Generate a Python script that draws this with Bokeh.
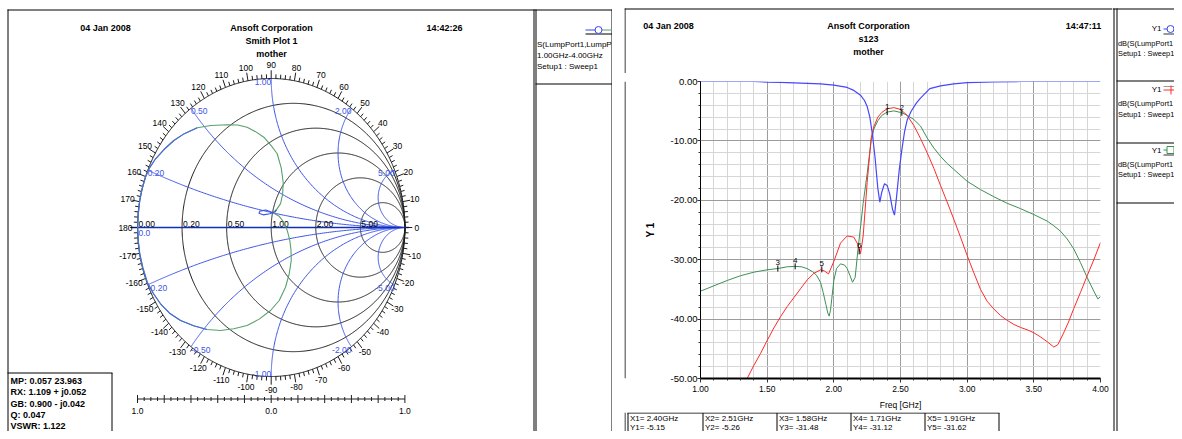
import numpy as np
from bokeh.plotting import figure
from bokeh.layouts import row, column
from bokeh.models import Range1d, FixedTicker, PrintfTickFormatter, Spacer
from bokeh.core.properties import value
from bokeh.embed import file_html
from bokeh.resources import INLINE

FONT_NAME = "Liberation Sans"
FONT = value(FONT_NAME)

# ================= Smith chart data =================
smith_r = [0.2, 0.5, 1.0, 2.0, 5.0]
smith_x = [0.2, 0.5, 1.0, 2.0, 5.0]
r_label_vals = [0.0, 0.2, 0.5, 1.0, 2.0, 5.0]
r_label_text = ["0.00", "0.20", "0.50", "1.00", "2.00", "5.00"]
angle_vals = list(range(-170, 181, 10))
ruler_vals = [-1.0, 0.0, 1.0]
ruler_text = ["1.0", "0.0", "1.0"]

# S11 trace (reflection coefficient re / im)
s11_loop_re = [-0.33, -0.45, -0.553, -0.65, -0.728, -0.80, -0.865, -0.91, -0.94, -0.965, -0.983, -0.994,
               -0.998, -0.994, -0.983, -0.96, -0.927, -0.88, -0.828, -0.76, -0.678, -0.58, -0.48, -0.379,
               -0.28, -0.18, -0.09, -0.005, 0.06, 0.107, 0.135, 0.15, 0.148, 0.139, 0.12, 0.095, 0.06, 0.01,
               0.04, 0.07, 0.085, 0.09, 0.075, 0.045, 0.0, -0.055, -0.12, -0.18, -0.25, -0.33]
s11_loop_im = [0.69, 0.685, 0.669, 0.63, 0.584, 0.525, 0.461, 0.40, 0.338, 0.26, 0.181, 0.09,
               0.0, -0.09, -0.177, -0.27, -0.367, -0.445, -0.512, -0.575, -0.624, -0.66, -0.685, -0.691,
               -0.68, -0.658, -0.615, -0.557, -0.49, -0.401, -0.31, -0.221, -0.15, -0.087, -0.02, 0.035, 0.075, 0.10,
               0.12, 0.16, 0.22, 0.30, 0.40, 0.495, 0.55, 0.606, 0.645, 0.673, 0.688, 0.69]
s11_edge_re = [-0.553, -0.65, -0.728, -0.80, -0.865, -0.91, -0.94, -0.965, -0.983, -0.994, -0.998,
               -0.994, -0.983, -0.96, -0.927, -0.88, -0.828, -0.76, -0.678, -0.58, -0.48]
s11_edge_im = [0.669, 0.63, 0.584, 0.525, 0.461, 0.40, 0.338, 0.26, 0.181, 0.09, 0.0,
               -0.09, -0.177, -0.27, -0.367, -0.445, -0.512, -0.575, -0.624, -0.66, -0.685]
s11_inner_re = [0.01, -0.04, -0.085, -0.092, -0.06, -0.01, 0.03, 0.04]
s11_inner_im = [0.10, 0.118, 0.11, 0.095, 0.085, 0.092, 0.105, 0.12]

marker_lines = ["MP: 0.057  23.963", "RX: 1.109 + j0.052", "GB: 0.900 - j0.042", "Q: 0.047", "VSWR: 1.122"]

# ================= Rectangular plot data =================
freq_s11 = [1.00, 1.20, 1.40, 1.50, 1.60, 1.80, 1.90, 2.00, 2.10, 2.15, 2.20, 2.23, 2.25, 2.27, 2.29, 2.31,
            2.33, 2.345, 2.36, 2.38, 2.40, 2.42, 2.44, 2.455, 2.47, 2.49, 2.51, 2.53, 2.55, 2.58, 2.62, 2.65,
            2.72, 2.80, 2.90, 3.00, 3.20, 3.40, 3.60, 4.00]
db_s11 = [0.0, 0.0, 0.0, -0.1, -0.15, -0.3, -0.4, -0.6, -1.0, -1.5, -2.3, -3.2, -4.2, -6.0, -9.0, -13.0,
          -18.0, -20.3, -18.6, -17.2, -17.5, -19.0, -21.5, -22.5, -19.5, -15.0, -11.5, -8.5, -6.5, -5.0, -3.6, -2.8,
          -1.2, -0.75, -0.4, -0.2, -0.06, 0.0, 0.0, 0.0]

freq_s21 = [1.35, 1.40, 1.45, 1.50, 1.55, 1.60, 1.65, 1.70, 1.75, 1.80, 1.85, 1.90, 1.93, 1.96, 2.00, 2.05,
            2.10, 2.15, 2.18, 2.20, 2.22, 2.25, 2.28, 2.30, 2.33, 2.36, 2.40, 2.45, 2.50, 2.55, 2.60, 2.65,
            2.70, 2.75, 2.80, 2.85, 2.90, 2.95, 3.00, 3.05, 3.10, 3.15, 3.20, 3.25, 3.30, 3.35, 3.40, 3.45,
            3.50, 3.55, 3.60, 3.65, 3.68, 3.72, 3.76, 3.80, 3.85, 3.90, 3.95, 4.00]
db_s21 = [-50.0, -47.8, -45.8, -43.6, -41.5, -39.6, -37.9, -36.4, -34.9, -33.4, -32.3, -31.7, -31.9, -32.4, -30.3, -27.2,
          -26.0, -26.2, -27.4, -29.0, -26.0, -17.0, -9.5, -7.6, -6.0, -5.2, -4.6, -4.4, -4.7, -5.7, -7.4, -9.6,
          -12.0, -14.6, -17.5, -20.3, -23.2, -26.2, -29.3, -32.2, -35.0, -37.0, -38.3, -39.4, -40.2, -40.9, -41.4, -41.8,
          -42.3, -43.0, -43.8, -44.7, -44.3, -42.5, -40.5, -38.2, -35.5, -32.7, -30.0, -27.1]

freq_s31 = [1.00, 1.10, 1.20, 1.30, 1.40, 1.50, 1.58, 1.65, 1.71, 1.76, 1.80, 1.84, 1.87, 1.90, 1.92, 1.94,
            1.955, 1.965, 1.975, 1.985, 2.00, 2.02, 2.05, 2.08, 2.10, 2.12, 2.14, 2.16, 2.18, 2.20, 2.22, 2.25,
            2.28, 2.30, 2.33, 2.36, 2.40, 2.45, 2.51, 2.55, 2.60, 2.65, 2.70, 2.75, 2.80, 2.85, 2.90, 3.00,
            3.10, 3.20, 3.30, 3.40, 3.50, 3.60, 3.65, 3.70, 3.75, 3.80, 3.85, 3.90, 3.95, 3.98, 4.00]
db_s31 = [-35.3, -34.4, -33.5, -32.7, -32.1, -31.7, -31.48, -31.2, -31.12, -31.2, -31.5, -32.0, -32.6, -33.8, -35.5, -37.5,
          -39.0, -39.5, -38.5, -36.5, -33.5, -31.5, -30.7, -30.9, -31.5, -32.6, -33.8, -33.0, -28.5, -24.5, -20.5, -15.5,
          -10.0, -8.0, -6.6, -5.7, -5.15, -4.95, -5.26, -5.7, -6.4, -7.5, -9.5, -11.2, -12.6, -13.8, -14.8, -16.8,
          -18.2, -19.4, -20.5, -21.4, -22.4, -23.5, -24.3, -25.2, -26.5, -28.2, -30.5, -33.0, -35.3, -36.6, -36.2]

x_ticks = [1.0, 1.5, 2.0, 2.5, 3.0, 3.5, 4.0]
y_ticks = [-50, -40, -30, -20, -10, 0]
mk_freq = [2.40, 2.51, 1.58, 1.71, 1.91, 2.19]
mk_db = [-5.15, -5.26, -31.48, -31.12, -31.62, -28.6]
mk_label = ["1", "2", "3", "4", "5", "6"]
table_x = ["X1= 2.40GHz", "X2= 2.51GHz", "X3= 1.58GHz", "X4= 1.71GHz", "X5= 1.91GHz"]
table_y = ["Y1= -5.15", "Y2= -5.26", "Y3= -31.48", "Y4= -31.12", "Y5= -31.62"]

# ================= styling =================
BLK = "#1e1e1e"
SBLUE = "#3e55e6"
AXBLUE = "#1030b8"
TGREEN = "#5a9f6e"
C_BLUE = "#4646ff"
C_RED = "#ff2a2a"
C_GREEN = "#3f8f55"
TOTAL_H = 431


def txt(f, xs, ys, texts, size="9px", bold=False, align="center", baseline="middle", color="black", **kw):
    f.text(x=xs, y=ys, text=texts, text_font=FONT, text_font_size=size,
           text_font_style="bold" if bold else "normal", text_align=align,
           text_baseline=baseline, text_color=color, **kw)


def canvas(x0, x1, y0, y1):
    f = figure(width=x1 - x0, height=y1 - y0, x_range=Range1d(x0, x1), y_range=Range1d(y1, y0),
               x_axis_type=None, y_axis_type=None, output_backend="svg", toolbar_location=None,
               min_border=0)
    f.outline_line_color = None
    return f


# ================= left panel: Smith chart =================
SX, SY = 133.7, 149.0
CX, CY = 270.7, 227.0
W_L = 612
ps = figure(width=W_L, height=TOTAL_H,
            x_range=Range1d(-CX / SX, (W_L - CX) / SX),
            y_range=Range1d(-(TOTAL_H - CY) / SY, CY / SY),
            x_axis_type=None, y_axis_type=None, output_backend="svg",
            toolbar_location=None, min_border=0)
ps.outline_line_color = None
ps.extra_x_ranges = {"px": Range1d(0, W_L)}
ps.extra_y_ranges = {"px": Range1d(TOTAL_H, 0)}
PX = dict(x_range_name="px", y_range_name="px")

th = np.linspace(0, 2 * np.pi, 721)
cx_list, cy_list = [list(np.cos(th))], [list(np.sin(th))]
for r in smith_r:
    c, rad = r / (1 + r), 1 / (1 + r)
    cx_list.append(list(c + rad * np.cos(th)))
    cy_list.append(list(rad * np.sin(th)))
ps.multi_line(cx_list, cy_list, line_color=BLK, line_width=1)

r_sweep = np.concatenate([[0.0], np.logspace(-2.5, 3.5, 400)])
ax_xs, ax_ys = [], []
for xv in smith_x:
    for s in (1, -1):
        g = (r_sweep + 1j * s * xv - 1) / (r_sweep + 1j * s * xv + 1)
        ax_xs.append(list(g.real) + [1.0])
        ax_ys.append(list(g.imag) + [0.0])
ps.multi_line(ax_xs, ax_ys, line_color=SBLUE, line_width=1)

ps.line([-1.05, 1.03], [0, 0], line_color=AXBLUE, line_width=1.6)

deg = np.arange(0, 360, 2)
rd = np.radians(deg)
L = np.where(deg % 10 == 0, 0.055, 0.028)
ps.segment(x0=np.cos(rd), y0=np.sin(rd), x1=np.cos(rd) * (1 + L), y1=np.sin(rd) * (1 + L),
           line_color=BLK, line_width=1)
ang = np.radians(angle_vals)
txt(ps, list(1.09 * np.cos(ang)), list(1.09 * np.sin(ang)), [str(a) for a in angle_vals], size="8.5px")

gx = [(r - 1) / (r + 1) for r in r_label_vals]
txt(ps, gx, [0] * len(gx), r_label_text, size="8.5px", align="left", baseline="bottom", x_offset=1, y_offset=-1)
txt(ps, [-1.0], [0], ["0.0"], size="8.5px", align="left", baseline="top", color=SBLUE, x_offset=1, y_offset=2)

for xv in smith_x:
    for s in (1, -1):
        g = (1j * s * xv - 1) / (1j * s * xv + 1)
        lab = ("%.2f" % xv) if s > 0 else ("-%.2f" % xv)
        al = "left" if g.real < -0.01 else "right"
        bl = "bottom" if g.imag < -0.95 else "top"
        txt(ps, [g.real], [g.imag], [lab], size="8.5px", align=al, baseline=bl, color=SBLUE)

ps.line(s11_loop_re, s11_loop_im, line_color=TGREEN, line_width=1.1)
ps.line(s11_edge_re, s11_edge_im, line_color="#4a68e8", line_width=1.1)
ps.line(s11_inner_re, s11_inner_im, line_color="#3a55e0", line_width=1.1)

RY = 398.5
rt = np.round(np.arange(-1.0, 1.0001, 0.05), 3)
rmaj = np.isclose(np.round(rt / 0.2) * 0.2, rt)
rh = np.where(rmaj, 4.0, 2.0)
ps.line([-1.0, 1.0], [RY, RY], line_color=BLK, line_width=1, y_range_name="px")
ps.segment(x0=rt, y0=RY - rh, x1=rt, y1=RY + rh, line_color=BLK, line_width=1, y_range_name="px")
txt(ps, ruler_vals, [410] * 3, ruler_text, size="8.5px", y_range_name="px")

# frame lines / boxes (picture pixel coordinates)
ps.segment(x0=[7, 7.5, 533.5, 535.5, 611.5, 535, 7, 111.5, 585],
           y0=[9.5, 9, 9, 9, 9, 83.5, 372.5, 372.5, 33.5],
           x1=[612, 7.5, 533.5, 535.5, 611.5, 612, 112, 111.5, 612],
           y1=[9.5, 431, 431, 431, 431, 83.5, 372.5, 431, 33.5],
           line_color="black", line_width=1, **PX)

txt(ps, [105, 271, 444], [27.5, 27.5, 27.5], ["04 Jan 2008", "Ansoft Corporation", "14:42:26"], size="9px", bold=True, **PX)
txt(ps, [271, 271], [40.5, 53.5], ["Smith Plot 1", "mother"], size="9px", bold=True, **PX)

ps.line([585, 595], [29.5, 29.5], line_color="#3344ee", line_width=1, **PX)
ps.line([601, 612], [29.5, 29.5], line_color=TGREEN, line_width=1, **PX)
ps.scatter([598], [29.5], marker="circle", size=7, fill_color="white", line_color="#3344ee", **PX)
txt(ps, [536.5, 536.5, 536.5], [43.5, 55, 66], ["S(LumpPort1,LumpP", "1.00GHz-4.00GHz", "Setup1 : Sweep1"],
    size="8px", align="left", **PX)

txt(ps, [10] * 5, [380.5, 391.8, 403.1, 414.4, 425.5], marker_lines, size="9px", bold=True, align="left", **PX)

# ================= right panel =================
RX0, RX1 = 624, 1112
HDR_B, PLOT_B = 73, 412

header = canvas(RX0, RX1, 0, HDR_B)
header.segment(x0=[624, 624.5], y0=[8.5, 8], x1=[RX1, 624.5], y1=[8.5, HDR_B], line_color="black", line_width=1)
txt(header, [668, 868, 1083], [25.5, 25.5, 25.5], ["04 Jan 2008", "Ansoft Corporation", "14:47:11"], size="9px", bold=True)
txt(header, [868, 868], [38.5, 51.5], ["s123", "mother"], size="9px", bold=True)

pad = canvas(624, 630, HDR_B, PLOT_B)
pad.segment(x0=[624.5], y0=[HDR_B], x1=[624.5], y1=[PLOT_B], line_color="black", line_width=1)

pr = figure(width=482, height=PLOT_B - HDR_B, x_range=Range1d(1.0, 4.0), y_range=Range1d(-50, 0),
            output_backend="svg", toolbar_location=None,
            min_border_left=70, min_border_right=12, min_border_top=8, min_border_bottom=32)
pr.outline_line_color = None
xt = FixedTicker(ticks=x_ticks, minor_ticks=[round(1.0 + 0.1 * i, 2) for i in range(31)])
yt = FixedTicker(ticks=y_ticks, minor_ticks=list(range(-50, 1, 2)))
pr.xaxis.ticker = xt
pr.yaxis.ticker = yt
pr.xgrid.ticker = xt
pr.ygrid.ticker = yt
for g in (pr.xgrid[0], pr.ygrid[0]):
    g.grid_line_color = "#9c9c9c"
    g.grid_line_width = 1
    g.minor_grid_line_color = "#d6d6d6"
    g.minor_grid_line_width = 1
for ax in (pr.xaxis[0], pr.yaxis[0]):
    ax.formatter = PrintfTickFormatter(format="%.2f")
    ax.major_tick_in = 0
    ax.minor_tick_in = 0
    ax.minor_tick_out = 2
    ax.major_tick_line_color = "#333333"
    ax.minor_tick_line_color = "#333333"
    ax.axis_line_color = "black"
    ax.major_label_text_font = FONT_NAME
    ax.major_label_text_color = "black"
    ax.axis_label_text_font = FONT_NAME
    ax.axis_label_text_color = "black"
pr.xaxis.major_tick_out = 4
pr.yaxis.major_tick_out = 3
pr.xaxis.major_label_text_font_size = "8.5px"
pr.yaxis.major_label_text_font_size = "9.5px"
pr.xaxis.axis_line_width = 2
pr.xaxis.major_label_standoff = 3
pr.yaxis.major_label_standoff = 0
pr.xaxis.axis_label = "Freq [GHz]"
pr.xaxis.axis_label_text_font_size = "8.5px"
pr.xaxis.axis_label_text_font_style = "normal"
pr.xaxis.axis_label_standoff = 5
pr.yaxis.axis_label = "Y 1"
pr.yaxis.axis_label_text_font_size = "10px"
pr.yaxis.axis_label_text_font_style = "bold"
pr.yaxis.axis_label_standoff = 12

pr.line(freq_s31, db_s31, line_color=C_GREEN, line_width=1)
pr.line(freq_s21, db_s21, line_color=C_RED, line_width=1)
pr.line(freq_s11, db_s11, line_color=C_BLUE, line_width=1.2)
pr.scatter(mk_freq, mk_db, marker="dash", angle=np.pi / 2, size=6, line_color="black", line_width=1)
pr.text(x=mk_freq, y=mk_db, text=mk_label, text_font=FONT, text_font_size="8px", text_align="center",
        text_baseline="bottom", y_offset=-3, text_color="black")

footer = canvas(RX0, RX1, PLOT_B, TOTAL_H)
tb_x = [627.5, 702.5, 776.5, 850.5, 924.5, 998.5]
footer.segment(x0=[624.5, 627] + tb_x, y0=[PLOT_B, 412.5] + [412.5] * 6,
               x1=[624.5, 999] + tb_x, y1=[TOTAL_H, 412.5] + [TOTAL_H] * 6, line_color="black", line_width=1)
txt(footer, [x + 2 for x in tb_x[:5]], [418.3] * 5, table_x, size="8px", align="left")
txt(footer, [x + 2 for x in tb_x[:5]], [426.6] * 5, table_y, size="8px", align="left")

LEG_R = 1174
legend = canvas(RX1, LEG_R, 0, TOTAL_H)
legend.segment(x0=[1113.5, 1116.5, RX1, 1116, 1116, 1116],
               y0=[8, 8, 8.5, 80.5, 142.5, 202.5],
               x1=[1113.5, 1116.5, LEG_R, LEG_R, LEG_R, LEG_R],
               y1=[TOTAL_H, TOTAL_H, 8.5, 80.5, 142.5, 202.5], line_color="black", line_width=1)
txt(legend, [1161, 1161, 1161], [28, 89, 149.5], ["Y1", "Y1", "Y1"], size="8px", align="right")
legend.line([1163, LEG_R], [28.5, 28.5], line_color="#3344ee", line_width=1)
legend.scatter([1170], [28.5], marker="circle", size=7, fill_color="white", line_color="#3344ee")
legend.line([1163, LEG_R], [33.5, 33.5], line_color="#333333", line_width=1)
legend.line([1163, LEG_R], [86, 86], line_color="#999999", line_width=1)
legend.line([1163, LEG_R], [89.5, 89.5], line_color=C_RED, line_width=1)
legend.line([1170.5, 1170.5], [85, 94], line_color=C_RED, line_width=1)
legend.line([1163, LEG_R], [149.5, 149.5], line_color=C_GREEN, line_width=1)
legend.scatter([1170], [149.5], marker="square", size=7, fill_color="white", line_color=C_GREEN)
legend.line([1163, LEG_R], [154.5, 154.5], line_color="#333333", line_width=1)
for yy in (42.5, 103, 163.5):
    txt(legend, [1117.5, 1117.5], [yy, yy + 10.5], ["dB(S(LumpPort1", "Setup1 : Sweep1"],
        size="7.4px", align="left")

right_col = column(header, row(pad, pr), footer)
layout = row(ps, Spacer(width=12, height=TOTAL_H), right_col, legend)

with open("out.html", "w") as fh:
    fh.write(file_html(layout, INLINE))
